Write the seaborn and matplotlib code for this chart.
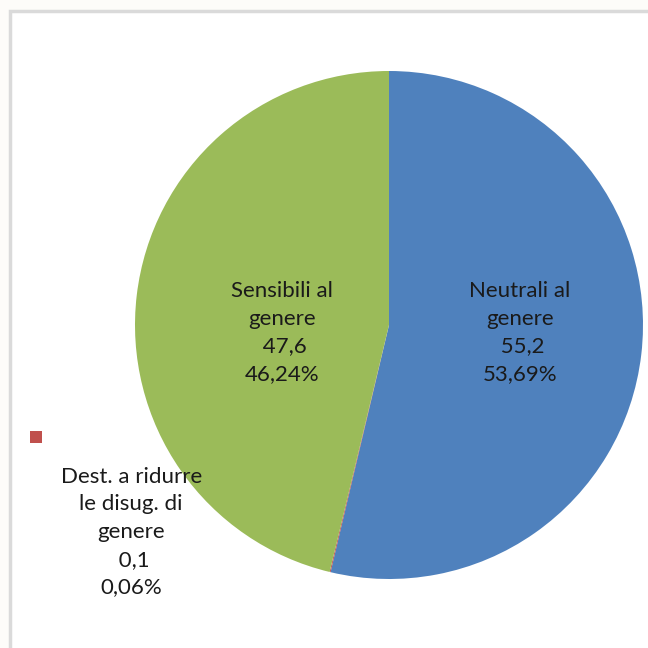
import matplotlib
matplotlib.use("Agg")
import matplotlib.pyplot as plt
from matplotlib.patches import Rectangle
import seaborn as sns

# Data
categories = ["Neutrali al\ngenere", "Dest. a ridurre\nle disug. di\ngenere", "Sensibili al\ngenere"]
values = [55.2, 0.1, 47.6]
percents = [53.69, 0.06, 46.24]
colors = ["#4F81BD", "#C0504D", "#9BBB59"]

sns.set_theme(style="white")
plt.rcParams["font.family"] = ["Lato", "DejaVu Sans"]

fig = plt.figure(figsize=(6.48, 6.48), dpi=100)
fig.patch.set_facecolor("#FDFCF9")

# Chart area frame in a background axes
bg = fig.add_axes([0, 0, 1, 1], zorder=-1)
bg.set_xlim(0, 1)
bg.set_ylim(0, 1)
bg.axis("off")
bg.add_patch(Rectangle((9.5 / 648, -0.05), 1.1, 1 - 10.5 / 648 + 0.05,
                       facecolor="white", edgecolor="#DADADA", linewidth=2.5))

ax = fig.add_axes([135 / 648, 69 / 648, 508 / 648, 508 / 648])
ax.set_facecolor("none")
wedges, _ = ax.pie(percents, colors=colors, startangle=90, counterclock=False,
                   radius=1.0, wedgeprops=dict(linewidth=0))
ax.set_xlim(-1, 1)
ax.set_ylim(-1, 1)
ax.set_aspect("equal")
ax.axis("off")


def fmt(v, p):
    return f" {v:.1f}".replace(".", ","), f"{p:.2f}%".replace(".", ",")


label_pos = [(0.516, -0.03), (-1.015, -0.815), (-0.42, -0.03)]
for cat, v, p, (x, y) in zip(categories, values, percents, label_pos):
    vs, ps = fmt(v, p)
    ax.text(x, y, f"{cat}\n{vs}\n{ps}", ha="center", va="center",
            fontsize=16, color="#1A1A1A", linespacing=1.48, clip_on=False)

# legend key shown next to the small slice label
ax.scatter([-1.39], [-0.44], marker="s", s=85, color=colors[1], clip_on=False,
           linewidths=0)

fig.savefig("out.png", dpi=100, facecolor=fig.get_facecolor())
